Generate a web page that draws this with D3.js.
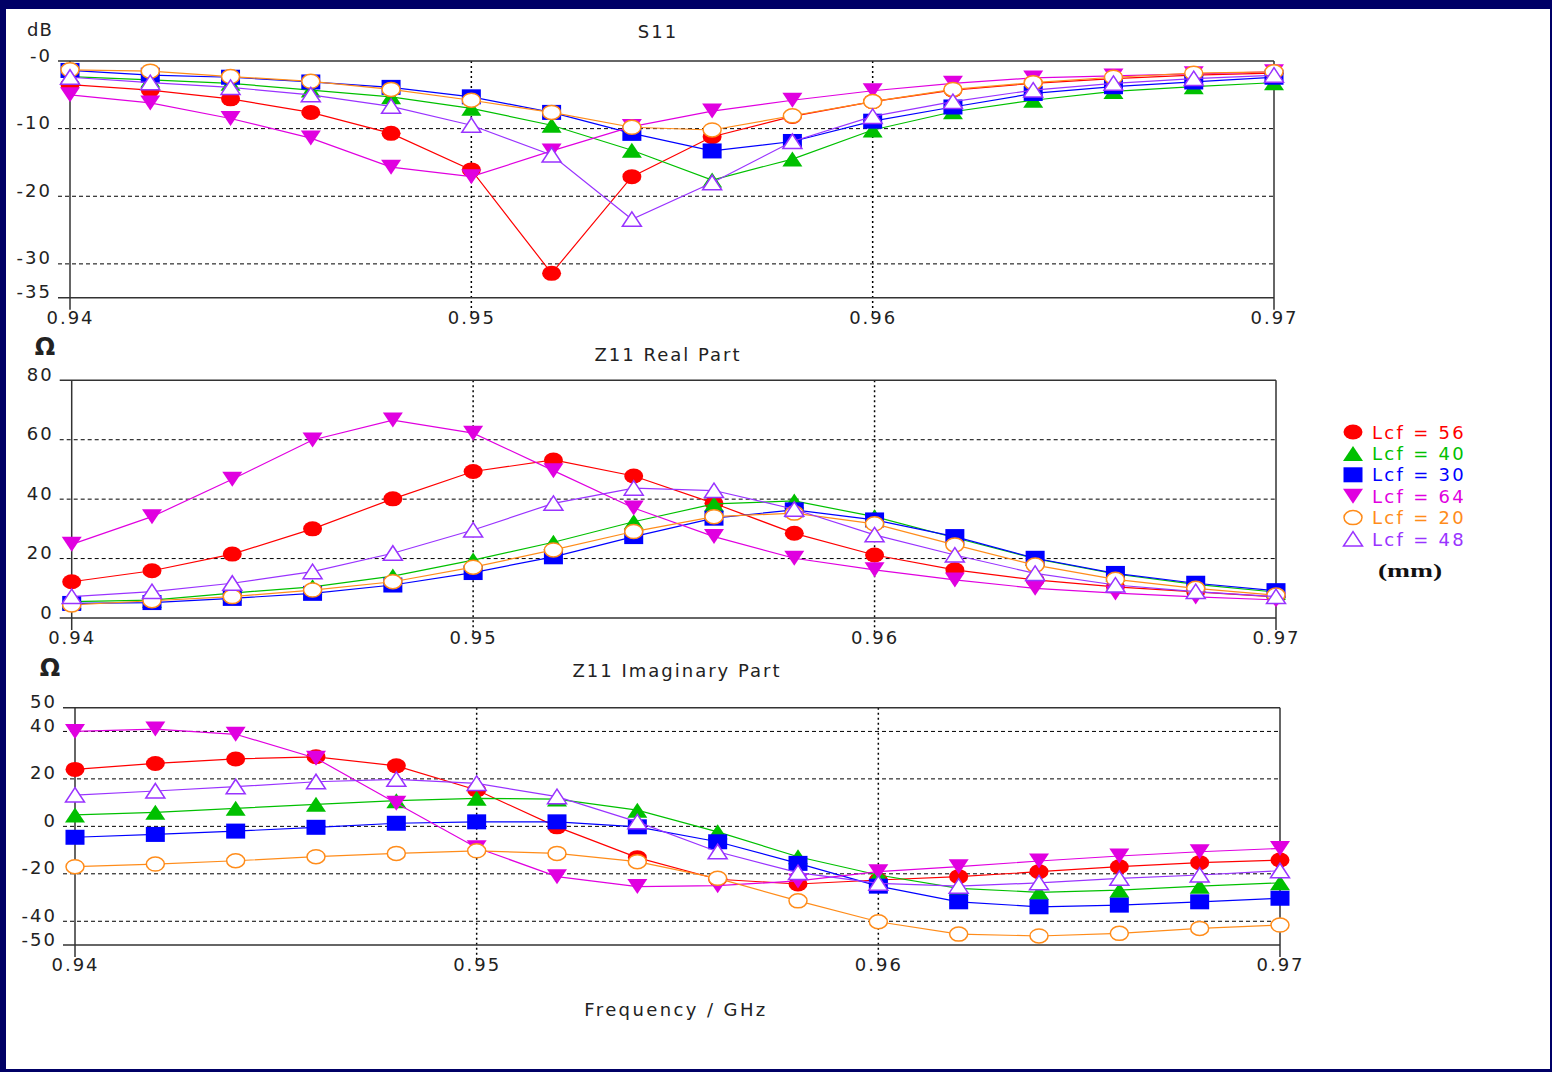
<!DOCTYPE html>
<html>
<head>
<meta charset="utf-8">
<script src="https://cdnjs.cloudflare.com/ajax/libs/d3/7.8.5/d3.min.js"></script>
<style>
body{margin:0;background:#000066}
svg{display:block}
text{font-family:"DejaVu Sans",Verdana,sans-serif}
text.serif{font-family:"Liberation Serif","Times New Roman",serif}
</style>
</head>
<body>
<svg id="chart"></svg>
<script>
// frequencies (GHz)
var freq=[0.940,0.942,0.944,0.946,0.948,0.950,0.952,0.954,0.956,0.958,0.960,0.962,0.964,0.966,0.968,0.970]
var xTicks=[0.94,0.95,0.96,0.97]
var xTickLabels=["0.94","0.95","0.96","0.97"]
var xGrid=[0.95,0.96]

// series, in legend order
var lcf=["56","40","30","64","20","48"]
var colors=["#ff0000","#00c000","#0000ff","#e000e0","#ff8c1a","#9933ff"]
var markers=["dot","tri","square","tridown","ring","opentri"]

// S11 (dB)
var s11_56=[-3.5,-4.3,-5.6,-7.6,-10.7,-16.1,-31.4,-17.1,-11.2,-8.2,-6.0,-4.3,-3.3,-2.6,-2.1,-1.8]
var s11_40=[-2.3,-2.8,-3.3,-4.3,-5.3,-7.0,-9.5,-13.2,-17.6,-14.5,-10.2,-7.5,-5.8,-4.5,-3.8,-3.2]
var s11_30=[-1.4,-2.1,-2.4,-3.1,-3.9,-5.3,-7.6,-10.7,-13.3,-11.9,-8.9,-6.8,-4.8,-3.8,-3.1,-2.4]
var s11_64=[-5.0,-6.2,-8.5,-11.4,-15.7,-17.1,-13.3,-9.7,-7.4,-5.8,-4.4,-3.3,-2.5,-2.2,-1.9,-1.6]
var s11_20=[-1.3,-1.5,-2.3,-3.0,-4.2,-5.8,-7.6,-9.8,-10.2,-8.1,-6.0,-4.2,-3.2,-2.4,-1.8,-1.6]
var s11_48=[-2.4,-3.2,-3.9,-5.0,-6.7,-9.5,-13.9,-23.4,-18.0,-11.9,-8.2,-6.0,-4.3,-3.3,-2.6,-2.1]
var s11Ticks=[0,-10,-20,-30,-35]
var s11TickLabels=["-0","-10","-20","-30","-35"]
var s11Grid=[-10,-20,-30]

// Z11 real part (ohm)
var re_56=[12.2,15.9,21.5,30.0,40.1,49.3,53.2,47.8,38.6,28.5,21.2,16.2,12.8,10.5,8.8,7.1]
var re_40=[5.5,6.0,8.4,10.5,14.1,19.5,25.5,32.4,38.4,39.4,34.1,27.0,20.0,14.8,11.3,8.7]
var re_30=[4.9,5.2,6.6,8.3,11.1,15.3,20.6,27.4,33.6,36.4,33.0,27.4,20.1,15.0,11.7,9.2]
var re_64=[24.8,34.1,46.7,59.9,66.6,62.2,49.6,37.0,27.4,20.1,16.2,12.8,10.0,8.4,7.1,6.1]
var re_20=[4.4,5.8,7.2,9.4,12.2,17.1,22.9,29.1,34.1,35.3,31.7,24.6,17.8,13.0,10.0,7.7]
var re_48=[7.2,8.9,11.7,15.6,21.8,29.6,38.6,43.7,42.9,36.6,28.0,21.2,15.0,11.1,8.9,7.2]
var reTicks=[80,60,40,20,0]
var reTickLabels=["80","60","40","20","0"]
var reGrid=[60,40,20]

// Z11 imaginary part (ohm)
var im_56=[24.0,26.5,28.4,29.3,25.5,15.3,-0.2,-13.2,-22.3,-24.3,-22.6,-21.2,-19.1,-17.0,-15.3,-14.2]
var im_40=[4.8,5.9,7.6,9.3,10.8,11.8,11.5,6.8,-2.3,-12.8,-20.5,-26.1,-27.8,-26.9,-25.2,-23.8]
var im_30=[-4.6,-3.4,-2.0,-0.4,1.3,1.9,1.9,-0.2,-6.5,-15.6,-25.2,-31.8,-33.9,-33.2,-31.8,-30.3]
var im_64=[40.0,41.0,38.8,28.7,9.7,-9.0,-21.2,-25.4,-25.0,-23.0,-19.1,-17.0,-14.6,-12.5,-10.7,-9.3]
var im_20=[-17.0,-15.9,-14.5,-12.8,-11.4,-10.3,-11.4,-14.9,-21.9,-31.4,-40.2,-45.4,-46.2,-45.1,-43.0,-41.6]
var im_48=[13.2,14.9,16.7,18.8,19.8,18.1,12.5,1.9,-10.7,-19.5,-24.0,-25.2,-23.8,-21.9,-20.5,-18.7]
var imTicks=[50,40,20,0,-20,-40,-50]
var imTickLabels=["50","40","20","0","-20","-40","-50"]
var imGrid=[40,20,0,-20,-40]

var svg=d3.select("#chart").attr("width",1552).attr("height",1072)
svg.append("rect").attr("width",1552).attr("height",1072).attr("fill","#000066")
svg.append("rect").attr("x",6).attr("y",9).attr("width",1544).attr("height",1060).attr("fill","#fff")

var textColor="#222"

//draw one marker
var addMarker=function(sel,type,color){
    if(type=="dot"){
        sel.append("ellipse").attr("rx",9.5).attr("ry",7.5).attr("fill",color)
    }else if(type=="ring"){
        sel.append("ellipse").attr("rx",9).attr("ry",7).attr("fill","#fff").attr("stroke",color).attr("stroke-width",1.5)
    }else if(type=="square"){
        sel.append("rect").attr("x",-9.5).attr("y",-7.5).attr("width",19).attr("height",15).attr("fill",color)
    }else if(type=="tri"){
        sel.append("path").attr("d","M-10,7.5L10,7.5L0,-7.5Z").attr("fill",color)
    }else if(type=="tridown"){
        sel.append("path").attr("d","M-10,-7.5L10,-7.5L0,7.5Z").attr("fill",color)
    }else{
        sel.append("path").attr("d","M-9.5,7L9.5,7L0,-7.5Z").attr("fill","#fff").attr("stroke",color).attr("stroke-width",1.5)
    }
}

var drawPanel=function(p){
    var xScale=d3.scaleLinear().domain([0.94,0.97]).range([p.left,p.right])
    var yScale=d3.scaleLinear().domain(p.domain).range([p.bottom,p.top])
    var g=svg.append("g")

    //grid
    g.selectAll(".hgrid").data(p.grid).enter().append("line")
        .attr("x1",p.left-12).attr("x2",p.right)
        .attr("y1",function(d){return yScale(d)}).attr("y2",function(d){return yScale(d)})
        .attr("stroke","#000").attr("stroke-width",1).attr("stroke-dasharray","4,3")
    g.selectAll(".vgrid").data(xGrid).enter().append("line")
        .attr("x1",function(d){return xScale(d)}).attr("x2",function(d){return xScale(d)})
        .attr("y1",p.top).attr("y2",p.bottom+16)
        .attr("stroke","#000").attr("stroke-width",1.5).attr("stroke-dasharray","2,3")

    //frame
    var frame=g.append("g").attr("stroke","#333").attr("stroke-width",1.5)
    frame.append("line").attr("x1",p.left-12).attr("x2",xScale(0.97))
        .attr("y1",yScale(p.domain[1])).attr("y2",yScale(p.domain[1]))
    frame.append("line").attr("x1",p.left-12).attr("x2",xScale(0.97))
        .attr("y1",yScale(p.domain[0])).attr("y2",yScale(p.domain[0]))
    frame.append("line").attr("x1",xScale(0.94)).attr("x2",xScale(0.94))
        .attr("y1",p.top).attr("y2",p.bottom+12)
    frame.append("line").attr("x1",xScale(0.97)).attr("x2",xScale(0.97))
        .attr("y1",p.top).attr("y2",p.bottom+12)

    //axes
    var yAxis=d3.axisLeft(yScale).tickValues(p.ticks)
        .tickFormat(function(d,i){return p.tickLabels[i]}).tickSize(0).tickPadding(18)
    var ya=g.append("g").attr("transform","translate("+p.left+",0)").call(yAxis)
    ya.select(".domain").remove()
    ya.attr("font-size",18).attr("color",textColor)
    ya.selectAll("text").attr("dy",0).attr("letter-spacing",2)

    var xAxis=d3.axisBottom(xScale).tickValues(xTicks)
        .tickFormat(function(d,i){return xTickLabels[i]}).tickSize(0)
    var xa=g.append("g").attr("transform","translate(0,"+p.bottom+")").call(xAxis)
    xa.select(".domain").remove()
    xa.attr("font-size",18).attr("color",textColor)
    xa.selectAll("text").attr("y",26).attr("dy",0).attr("letter-spacing",2)

    //titles
    g.append("text").text(p.title).attr("x",p.titleX).attr("y",p.titleY)
        .attr("text-anchor","middle").attr("font-size",18).attr("letter-spacing",2).attr("fill",textColor)
    g.append("text").text(p.unit).attr("x",p.unitX).attr("y",p.unitY)
        .attr("text-anchor","middle").attr("font-size",p.unitSize).attr("font-weight",p.unitWeight)
        .attr("letter-spacing",p.unitSpacing).attr("fill",textColor)

    //series
    var lineGenerator=d3.line()
        .x(function(d,i){return xScale(freq[i])})
        .y(function(d){return yScale(d)})
    p.series.forEach(function(vals,k){
        var sg=g.append("g")
        sg.append("path").datum(vals).attr("d",lineGenerator)
            .attr("fill","none").attr("stroke",colors[k]).attr("stroke-width",1.2)
        sg.selectAll(".pt").data(vals).enter().append("g")
            .attr("transform",function(d,i){return "translate("+xScale(freq[i])+","+yScale(d)+")"})
            .each(function(){addMarker(d3.select(this),markers[k],colors[k])})
    })
}

drawPanel({left:70,right:1274,top:61,bottom:297.7,domain:[-35,0],
    ticks:s11Ticks,tickLabels:s11TickLabels,grid:s11Grid,
    series:[s11_56,s11_40,s11_30,s11_64,s11_20,s11_48],
    title:"S11",titleX:658,titleY:38,
    unit:"dB",unitX:40,unitY:36,unitSize:18,unitWeight:"normal",unitSpacing:1})

drawPanel({left:71.7,right:1276,top:380.3,bottom:618,domain:[0,80],
    ticks:reTicks,tickLabels:reTickLabels,grid:reGrid,
    series:[re_56,re_40,re_30,re_64,re_20,re_48],
    title:"Z11 Real Part",titleX:668,titleY:361,
    unit:"Ω",unitX:45,unitY:355,unitSize:24,unitWeight:"bold",unitSpacing:0})

drawPanel({left:75,right:1280,top:707.7,bottom:945,domain:[-50,50],
    ticks:imTicks,tickLabels:imTickLabels,grid:imGrid,
    series:[im_56,im_40,im_30,im_64,im_20,im_48],
    title:"Z11 Imaginary Part",titleX:677,titleY:677,
    unit:"Ω",unitX:50,unitY:676,unitSize:24,unitWeight:"bold",unitSpacing:0})

svg.append("text").text("Frequency / GHz").attr("x",676).attr("y",1016)
    .attr("text-anchor","middle").attr("font-size",18).attr("letter-spacing",2.4).attr("fill",textColor)

//legend
var legend=svg.append("g")
var rows=legend.selectAll(".row").data(lcf).enter().append("g")
    .attr("transform",function(d,i){return "translate(1353,"+(432+i*21.4)+")"})
rows.each(function(d,i){addMarker(d3.select(this),markers[i],colors[i])})
rows.append("text").text(function(d){return "Lcf = "+d})
    .attr("x",19).attr("y",6.5).attr("font-size",18).attr("letter-spacing",2.3)
    .attr("fill",function(d,i){return colors[i]})
legend.append("text").text("(mm)").classed("serif",true)
    .attr("transform","translate(1410,577) scale(1.45,1)")
    .attr("text-anchor","middle").attr("font-weight","bold")
    .attr("font-size",19).attr("fill","#111")
</script>
</body>
</html>
